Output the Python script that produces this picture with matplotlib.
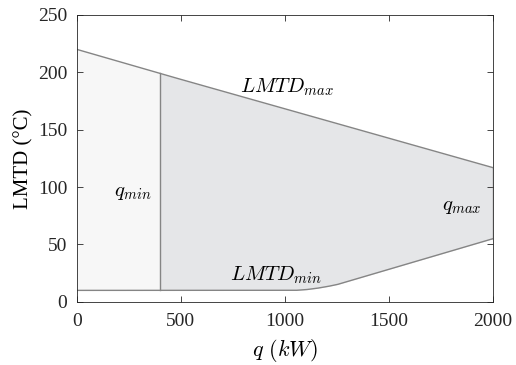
import numpy as np
import matplotlib.pyplot as plt

plt.rcParams['font.family'] = 'Liberation Serif'
plt.rcParams['mathtext.fontset'] = 'cm'

# operating envelope of the heat exchanger
q_lim = [0, 400, 2000]
lmtd_max = [220, 199, 117]
q_low = [0, 1000, 1050, 1100, 1150, 1200, 1250, 2000]
lmtd_low = [10, 10, 10, 10.6, 11.7, 13.2, 15, 55]
q_min = 400

xs = np.linspace(0, 2000, 801)
upper = np.interp(xs, q_lim, lmtd_max)
lower = np.interp(xs, q_low, lmtd_low)

fig = plt.figure(figsize=(5.16, 3.65), dpi=100)
ax = fig.add_axes([0.149, 0.173, 0.806, 0.786])

left = xs <= q_min
ax.fill_between(xs[left], lower[left], upper[left], color='#f7f7f7', lw=0)
right = xs >= q_min
ax.fill_between(xs[right], lower[right], upper[right], color='#e5e6e8', lw=0)

lc = '#858585'
ax.plot(xs, upper, color=lc, lw=1)
ax.plot(xs, lower, color=lc, lw=1)
ax.plot([2000, 2000], [upper[-1], lower[-1]], color=lc, lw=1)
ax.plot([q_min, q_min], [np.interp(q_min, q_low, lmtd_low),
                         np.interp(q_min, q_lim, lmtd_max)], color=lc, lw=1)

ax.text(1012, 187, r'$LMTD_{max}$', fontsize=15, ha='center', va='center')
ax.text(960, 23.5, r'$LMTD_{min}$', fontsize=15, ha='center', va='center')
ax.text(267, 95, r'$q_{min}$', fontsize=15, ha='center', va='center')
ax.text(1851, 83, r'$q_{max}$', fontsize=15, ha='center', va='center')

ax.set_xlim(0, 2000)
ax.set_ylim(0, 250)
ax.set_xticks([0, 500, 1000, 1500, 2000])
ax.set_yticks([0, 50, 100, 150, 200, 250])
ax.tick_params(direction='in', top=True, right=True, labelsize=14,
               length=4, width=0.6, colors='#262626')
ax.tick_params(axis='x', pad=8)
ax.tick_params(axis='y', pad=7)
for s in ax.spines.values():
    s.set_linewidth(0.6)
    s.set_color('#262626')
ax.set_xlabel(r'$q\ (kW)$', fontsize=16, labelpad=5)
ax.set_ylabel('LMTD (°C)', fontsize=15, labelpad=3)

fig.savefig('out.png', dpi=100)
